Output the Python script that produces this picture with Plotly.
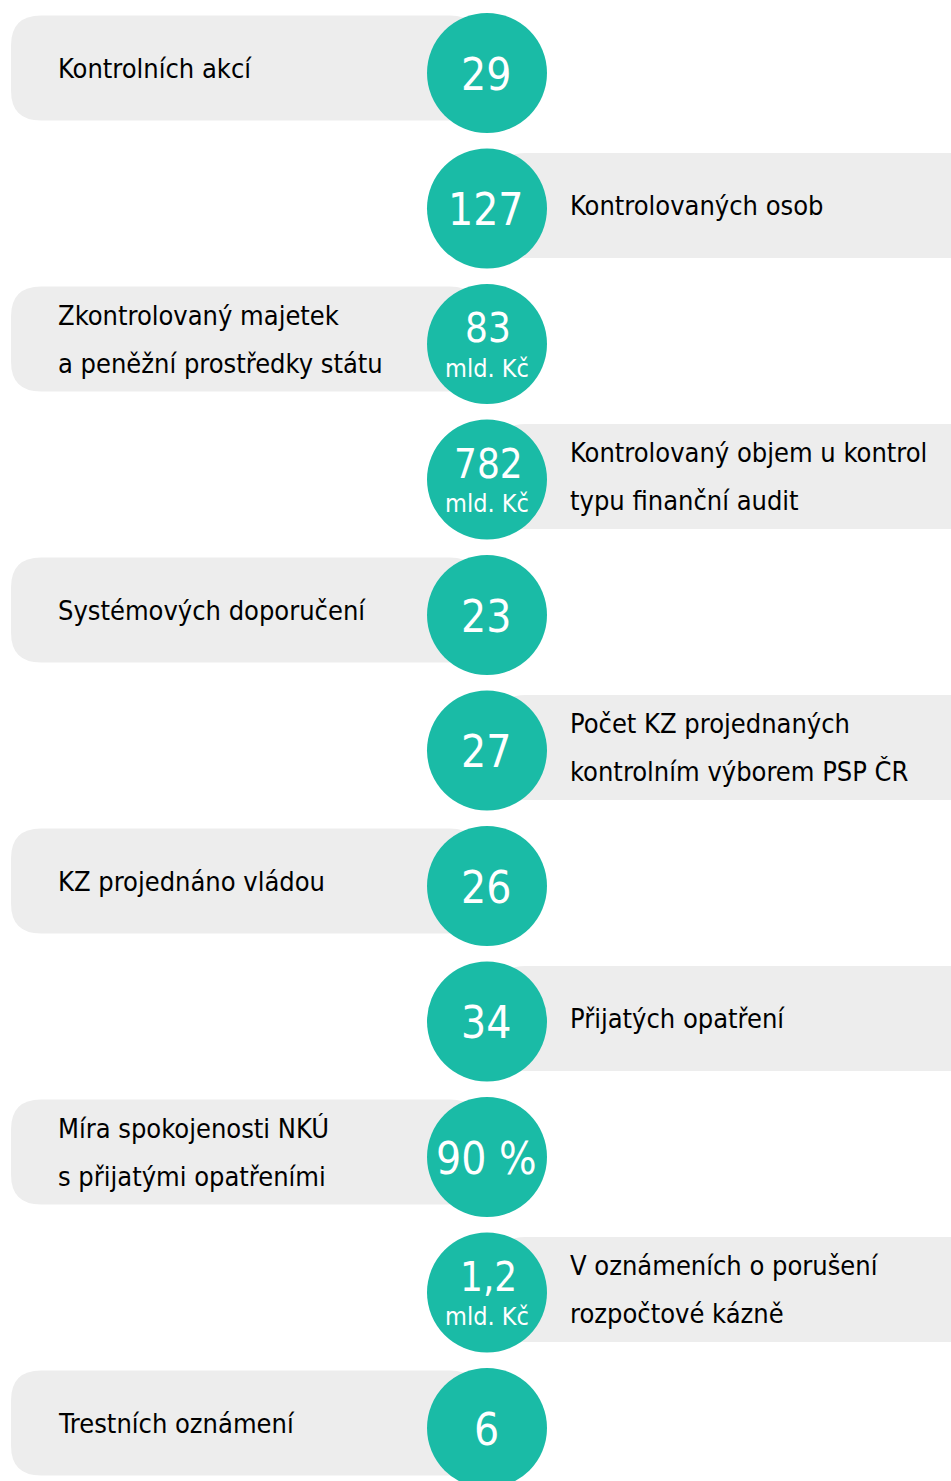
import plotly.graph_objects as go

labels = [
    "Kontrolních akcí",
    "Kontrolovaných osob",
    "Zkontrolovaný majetek\na peněžní prostředky státu",
    "Kontrolovaný objem u kontrol\ntypu finanční audit",
    "Systémových doporučení",
    "Počet KZ projednaných\nkontrolním výborem PSP ČR",
    "KZ projednáno vládou",
    "Přijatých opatření",
    "Míra spokojenosti NKÚ\ns přijatými opatřeními",
    "V oznámeních o porušení\nrozpočtové kázně",
    "Trestních oznámení",
]
values = ["29", "127", "83", "782", "23", "27", "26", "34", "90 %", "1,2", "6"]
units = ["", "", "mld. Kč", "mld. Kč", "", "", "", "", "", "mld. Kč", ""]
sides = ["left", "right", "left", "right", "left", "right",
         "left", "right", "left", "right", "left"]

W, H = 951, 1481
TEAL = "#1ABBA6"
GREY = "#EDEDED"
FONT = "Liberation Sans Narrow, DejaVu Sans Condensed, Arial Narrow, sans-serif"

first_y, step = 73, 135.5
cx, r = 487, 60
box_h, rad = 105, 30


def rounded_rect(x0, y0, x1, y1, k):
    return (f"M{x0+k},{y0} L{x1-k},{y0} Q{x1},{y0} {x1},{y0+k} "
            f"L{x1},{y1-k} Q{x1},{y1} {x1-k},{y1} L{x0+k},{y1} "
            f"Q{x0},{y1} {x0},{y1-k} L{x0},{y0+k} Q{x0},{y0} {x0+k},{y0} Z")


shapes = []
annotations = []
for i, (lab, val, unit, side) in enumerate(zip(labels, values, units, sides)):
    cy = first_y + i * step
    if side == "left":
        x0, x1, tx, by = 11, 480, 56, cy - 5
    else:
        x0, x1, tx, by = 495, 1000, 568, cy - 3
    shapes.append(dict(type="path", path=rounded_rect(x0, by - box_h / 2, x1, by + box_h / 2, rad),
                       fillcolor=GREY, line=dict(width=0), layer="below"))
    shapes.append(dict(type="circle", x0=cx - r, x1=cx + r, y0=cy - r, y1=cy + r,
                       fillcolor=TEAL, line=dict(width=0), layer="below"))

    lines = lab.split("\n")
    n = len(lines)
    for j, ln in enumerate(lines):
        ly = by + (j - (n - 1) / 2) * 48
        annotations.append(dict(x=tx, y=ly, text=ln, showarrow=False, xanchor="left",
                                yanchor="middle", font=dict(family=FONT, size=27, color="#000000")))
    if unit:
        annotations.append(dict(x=cx + 1, y=cy - 16, text=val, showarrow=False,
                                font=dict(family=FONT, size=40, color="white")))
        annotations.append(dict(x=cx, y=cy + 24, text=unit, showarrow=False,
                                font=dict(family=FONT, size=25, color="white")))
    else:
        annotations.append(dict(x=cx - 1, y=cy + 1, text=val, showarrow=False,
                                font=dict(family=FONT, size=44, color="white")))

fig = go.Figure()
fig.update_layout(
    width=W, height=H,
    margin=dict(l=0, r=0, t=0, b=0),
    paper_bgcolor="white", plot_bgcolor="white",
    xaxis=dict(range=[0, W], visible=False, fixedrange=True),
    yaxis=dict(range=[H, 0], visible=False, fixedrange=True),
    shapes=shapes, annotations=annotations, showlegend=False,
)
fig.write_html("out.html", config={"displayModeBar": False},
               post_script="document.body.style.margin='0';")
